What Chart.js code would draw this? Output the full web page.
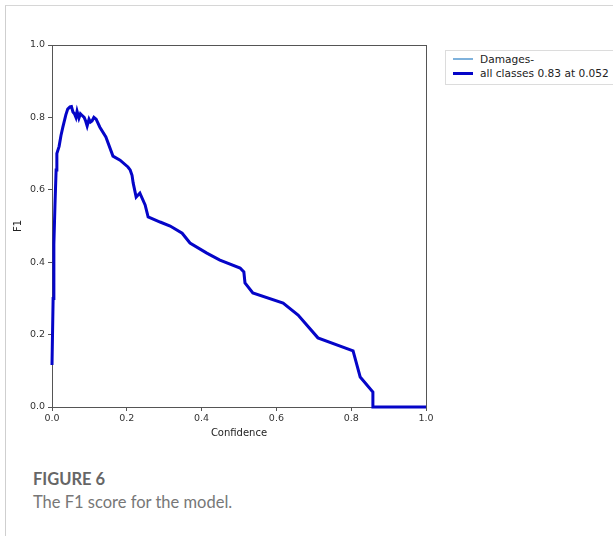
<!DOCTYPE html>
<html>
<head>
<meta charset="utf-8">
<script src="https://cdn.jsdelivr.net/npm/chart.js@4/dist/chart.umd.min.js"></script>
<style>
  html, body { margin: 0; padding: 0; background: #fff; }
  #wrap { position: relative; width: 613px; height: 536px; overflow: hidden; }
  #frame { position: absolute; left: 5px; top: 5px; width: 700px; height: 700px; border-left: 1px solid #cfcfcf; border-top: 1px solid #d6d6d6; }
  #cv { position: absolute; left: 0; top: 0; }
  #legend { position: absolute; left: 445px; top: 50px; width: 200px; height: 33px; border: 1px solid #dcdcdc; background: #fff; font-family: "DejaVu Sans", sans-serif; font-size: 10.6px; color: #222; }
  .row { position: absolute; left: 0; height: 12px; }
  .sw { position: absolute; left: 7px; width: 20px; }
  .lt { position: absolute; left: 34px; top: 0; white-space: nowrap; line-height: 12px; }
  #cap1 { position: absolute; left: 33px; top: 469px; font-family: Lato, "Open Sans", sans-serif; font-weight: bold; font-size: 16.5px; color: #666; }
  #cap2 { position: absolute; left: 33px; top: 492px; font-family: Lato, "Open Sans", sans-serif; font-size: 16.5px; color: #777; }
</style>
</head>
<body>
<div id="wrap">
  <div id="frame"></div>
  <canvas id="cv" width="613" height="445"></canvas>
  <div id="legend"></div>
  <div id="cap1">FIGURE 6</div>
  <div id="cap2">The F1 score for the model.</div>
</div>
<script>
// ---- data ----
const confidence = [0, 0.003, 0.005, 0.008, 0.011, 0.013, 0.019, 0.024, 0.029, 0.037, 0.042, 0.048, 0.052, 0.056, 0.060, 0.064, 0.067, 0.072, 0.076, 0.080, 0.086, 0.090, 0.094, 0.099, 0.103, 0.107, 0.112, 0.118, 0.128, 0.144, 0.163, 0.182, 0.203, 0.209, 0.214, 0.217, 0.225, 0.235, 0.249, 0.257, 0.289, 0.316, 0.348, 0.369, 0.414, 0.449, 0.503, 0.513, 0.516, 0.537, 0.618, 0.658, 0.711, 0.805, 0.824, 0.858, 0.858, 1.0];
const f1Damages  = [0.116, 0.30, 0.45, 0.56, 0.655, 0.70, 0.72, 0.75, 0.773, 0.807, 0.823, 0.829, 0.83, 0.815, 0.81, 0.80, 0.817, 0.798, 0.810, 0.806, 0.80, 0.79, 0.776, 0.795, 0.787, 0.79, 0.80, 0.795, 0.773, 0.746, 0.693, 0.682, 0.663, 0.655, 0.64, 0.619, 0.58, 0.591, 0.558, 0.525, 0.511, 0.50, 0.48, 0.453, 0.425, 0.406, 0.384, 0.373, 0.343, 0.315, 0.287, 0.254, 0.191, 0.155, 0.083, 0.041, 0.0, 0.0];
const f1AllClasses = f1Damages.slice(); // single class: all-classes curve equals the class curve
const seriesLabels = ["Damages-", "all classes 0.83 at 0.052"];
const seriesColors = ["#7fb2dc", "#0505c8"];
const seriesWidths = [1.5, 3];
const axisTicks = [0, 0.2, 0.4, 0.6, 0.8, 1.0];
const xTitle = "Confidence";
const yTitle = "F1";

const toPts = (xs, ys) => xs.map((x, i) => ({ x: x, y: ys[i] }));

const boxPlugin = {
  id: 'box',
  beforeDatasetsDraw(chart) {
    const a = chart.chartArea, c = chart.ctx;
    c.save();
    c.strokeStyle = '#555';
    c.lineWidth = 1;
    c.strokeRect(Math.round(a.left) + 0.5, Math.round(a.top) + 0.5, Math.round(a.right - a.left), Math.round(a.bottom - a.top));
    c.restore();
  }
};

const tickFont = { family: "DejaVu Sans", size: 9.5 };

new Chart(document.getElementById('cv'), {
  type: 'scatter',
  data: {
    datasets: [
      { label: seriesLabels[1], data: toPts(confidence, f1AllClasses), showLine: true, borderColor: seriesColors[1], borderWidth: seriesWidths[1], pointRadius: 0, tension: 0, clip: 5, order: 1 },
      { label: seriesLabels[0], data: toPts(confidence, f1Damages), showLine: true, borderColor: seriesColors[0], borderWidth: seriesWidths[0], pointRadius: 0, tension: 0, clip: 5, order: 2 }
    ]
  },
  options: {
    responsive: false,
    animation: false,
    layout: { padding: { left: 0, top: 45, right: 187, bottom: 0 } },
    plugins: { legend: { display: false }, tooltip: { enabled: false } },
    scales: {
      x: {
        type: 'linear', min: 0, max: 1,
        afterBuildTicks(s) { s.ticks = axisTicks.map(v => ({ value: v })); },
        afterFit(s) { s.height = 38; },
        ticks: { font: tickFont, color: '#333', padding: 2, maxRotation: 0, callback: v => v.toFixed(1) },
        grid: { display: true, drawOnChartArea: false, drawTicks: true, tickLength: 4, color: '#555' },
        border: { display: true, color: '#555' },
        title: { display: true, text: xTitle, font: { family: "DejaVu Sans", size: 10 }, color: '#222', padding: { top: 0, bottom: 6 } }
      },
      y: {
        type: 'linear', min: 0, max: 1,
        afterBuildTicks(s) { s.ticks = axisTicks.map(v => ({ value: v })); },
        afterFit(s) { s.width = 52; },
        ticks: { font: tickFont, color: '#333', padding: 3, callback: v => v.toFixed(1) },
        grid: { display: true, drawOnChartArea: false, drawTicks: true, tickLength: 4, color: '#555' },
        border: { display: true, color: '#555' },
        title: { display: true, text: yTitle, font: { family: "DejaVu Sans", size: 10 }, color: '#222', padding: { top: 12, bottom: 0 } }
      }
    }
  },
  plugins: [boxPlugin]
});

// legend built from the series arrays
const lg = document.getElementById('legend');
[0, 1].forEach(i => {
  const row = document.createElement('div');
  row.className = 'row';
  row.style.top = (i === 0 ? 2 : 16) + 'px';
  const sw = document.createElement('div');
  sw.className = 'sw';
  sw.style.background = seriesColors[i];
  sw.style.height = seriesWidths[i] + 'px';
  sw.style.top = (6 - seriesWidths[i] / 2) + 'px';
  const t = document.createElement('div');
  t.className = 'lt';
  t.textContent = seriesLabels[i];
  row.appendChild(sw); row.appendChild(t);
  lg.appendChild(row);
});
</script>
</body>
</html>
